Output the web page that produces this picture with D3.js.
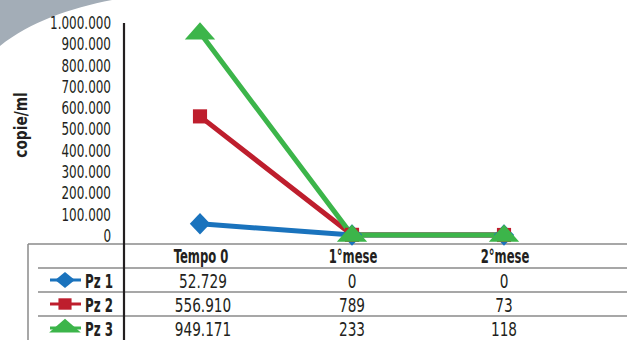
<!DOCTYPE html>
<html>
<head>
<meta charset="utf-8">
<script src="https://cdn.jsdelivr.net/npm/d3@7/dist/d3.min.js"></script>
<style>
  html, body { margin: 0; padding: 0; background: #fff; }
  svg { display: block; }
  text { font-family: "DejaVu Sans Condensed", "DejaVu Sans", sans-serif; fill: #231f20; }
</style>
</head>
<body>
<svg id="chart" width="627" height="340"></svg>
<script>
// Viral load (copies/ml) for three patients over time
const categories = ["Tempo 0", "1°mese", "2°mese"];
const seriesNames = ["Pz 1", "Pz 2", "Pz 3"];
const pz1 = [52729, 0, 0];
const pz2 = [556910, 789, 73];
const pz3 = [949171, 233, 118];
const yTicks = [0, 100000, 200000, 300000, 400000, 500000, 600000, 700000, 800000, 900000, 1000000];
const yTitle = "copie/ml";

const seriesValues = [pz1, pz2, pz3];
const colors = ["#1a73bd", "#be1e2d", "#3cb54a"];
const shapes = [d3.symbolDiamond, d3.symbolSquare, d3.symbolTriangle];

const it = d3.formatLocale({ decimal: ",", thousands: ".", grouping: [3], currency: ["€", ""] });
const fmt = it.format(",d");

const svg = d3.select("#chart");
const W = 627, H = 340;

// narrow text: place with a transform and squeeze horizontally
function placeText(sel, x, y, sx) {
  return sel.attr("x", 0).attr("y", 0)
    .attr("transform", `translate(${x},${y}) scale(${sx},1)`);
}

// decorative corner swoosh
svg.append("path")
  .attr("d", "M0,0 L112,0 C70,8 30,22 0,46 Z")
  .attr("fill", "#a3adb7");

const axisX = 124;
const x = d3.scaleBand().domain(categories).range([axisX, 580]);
const cx = d => x(d) + x.bandwidth() / 2;
const y = d3.scaleLinear().domain([0, 1000000]).range([235, 22]);

// y axis tick labels
const yAxis = d3.axisLeft(y).tickValues(yTicks).tickFormat(fmt).tickSize(0).tickPadding(13);
const gy = svg.append("g").attr("transform", `translate(${axisX},0)`).call(yAxis);
gy.select(".domain").remove();
gy.selectAll("text")
  .attr("font-size", 18)
  .attr("fill", "#231f20")
  .attr("x", 0)
  .attr("dy", "0.36em")
  .attr("transform", "translate(-13,0) scale(0.74,1)")
  .style("font-family", '"DejaVu Sans Condensed", "DejaVu Sans", sans-serif');

// axis title
svg.append("text")
  .attr("transform", "translate(27,125) rotate(-90) scale(0.9,1)")
  .attr("text-anchor", "middle")
  .attr("font-size", 17)
  .attr("font-weight", "bold")
  .text(yTitle);

// data table grid
const tableTop = 244;
const rowH = 24;
const grid = svg.append("g").attr("stroke", "#8a8a8a").attr("stroke-width", 1.5);
grid.append("line").attr("x1", 28).attr("x2", W).attr("y1", tableTop).attr("y2", tableTop);
grid.append("line").attr("x1", 28).attr("x2", 28).attr("y1", tableTop).attr("y2", H);
seriesNames.forEach((s, i) => {
  const yy = tableTop + rowH * (i + 1);
  grid.append("line").attr("x1", 38).attr("x2", W).attr("y1", yy).attr("y2", yy);
});

// header row
svg.append("g").selectAll("text").data(categories).join("text")
  .each(function (d) { placeText(d3.select(this), cx(d) + 1, tableTop + rowH / 2 + 7, 0.68); })
  .attr("text-anchor", "middle")
  .attr("font-size", 19)
  .attr("font-weight", "bold")
  .text(d => d);

// rows: legend key + values
seriesNames.forEach((s, i) => {
  const ry = tableTop + rowH * (i + 1) + rowH / 2;
  const g = svg.append("g");
  g.append("line").attr("x1", 50).attr("x2", 81).attr("y1", ry).attr("y2", ry)
    .attr("stroke", colors[i]).attr("stroke-width", 3);
  g.append("path")
    .attr("d", d3.symbol().type(shapes[i]).size([130, 130, 170][i])())
    .attr("transform", `translate(65,${ry}) scale(${[1.6, 1.15, 1.6][i]},${[0.75, 1, 0.8][i]})`)
    .attr("fill", colors[i]);
  placeText(g.append("text"), 85, ry + 7.5, 0.66)
    .attr("font-size", 20).attr("font-weight", "bold").text(s);
  g.selectAll("text.v").data(seriesValues[i]).join("text")
    .attr("class", "v")
    .each(function (d, j) { placeText(d3.select(this), cx(categories[j]) + (j === 0 ? 3 : 0), ry + 7.5, 0.76); })
    .attr("text-anchor", "middle")
    .attr("font-size", 20)
    .text(d => fmt(d));
});

// series lines and markers
const line = d3.line().x((d, j) => cx(categories[j])).y(d => y(d));
seriesValues.forEach((vals, i) => {
  svg.append("path")
    .datum(vals)
    .attr("d", line)
    .attr("fill", "none")
    .attr("stroke", colors[i])
    .attr("stroke-width", 5);
});
seriesValues.forEach((vals, i) => {
  svg.append("g").selectAll("path").data(vals).join("path")
    .attr("d", d3.symbol().type(shapes[i]).size([150, 200, 190][i])())
    .attr("transform", (d, j) => `translate(${cx(categories[j])},${y(d) + (i === 2 ? 1 : 0)}) scale(${[1.55, 1, 1.45][i]},${[0.95, 1, 0.95][i]})`)
    .attr("fill", colors[i]);
});

// vertical axis line running through the table
svg.append("line")
  .attr("x1", axisX).attr("x2", axisX)
  .attr("y1", 23).attr("y2", H)
  .attr("stroke", "#231f20").attr("stroke-width", 2.2);
</script>
</body>
</html>
